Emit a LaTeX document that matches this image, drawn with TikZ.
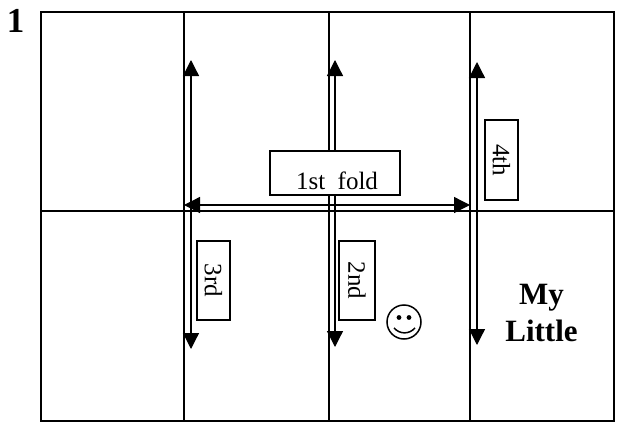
\documentclass[tikz,border=0pt]{standalone}
\usepackage{fontspec}
\setmainfont{Liberation Serif}
\usetikzlibrary{arrows.meta}

\begin{document}
\begin{tikzpicture}[x=1pt, y=-1pt, line width=1.5pt,
    foldarrow/.style={line width=1.3pt, {Triangle[length=16pt,width=16pt]}-{Triangle[length=16pt,width=16pt]}},
    foldbox/.style={draw, fill=white, inner sep=0pt, font=\fontsize{25}{28}\selectfont},
    boldlabel/.style={font=\fontsize{31}{37}\selectfont\bfseries, align=center}]
    \useasboundingbox (0,0) rectangle (619,423);
    % the sheet and its creases
    \node[draw, minimum width=573pt, minimum height=409pt, inner sep=0pt] (sheet) at (327.5,216.5) {};
    \coordinate (left) at (41,211);
    \coordinate (right) at (sheet.east |- left);
    \draw (left) -- (right);
    \foreach \name/\x in {a/184,b/329,c/470} {
        \coordinate (\name top) at (\x,12);
        \coordinate (\name bot) at (\x,421);
        \draw (\name top) -- (\name bot);
    }
    % fold arrows
    \coordinate (third top) at (191,60);
    \coordinate (third bot) at (191,349);
    \coordinate (second top) at (335,60);
    \coordinate (second bot) at (335,347);
    \coordinate (fourth top) at (477,62);
    \coordinate (fourth bot) at (477,345);
    \coordinate (first l) at (184,205);
    \coordinate (first r) at (470,205);
    \draw[foldarrow] (third top) -- (third bot);
    \draw[foldarrow] (second top) -- (second bot);
    \draw[foldarrow] (fourth top) -- (fourth bot);
    \draw[foldarrow] (first l) -- (first r);
    % labels
    \node[foldbox, minimum width=130pt, minimum height=44pt, text height=32pt, text depth=0pt] (first) at (335,173) {\hspace*{4pt}1st\ \ fold};
    \node[foldbox, rotate=-90, minimum width=79pt, minimum height=33pt] (third) at (213.5,280.5) {3rd};
    \node[foldbox, rotate=-90, minimum width=79pt, minimum height=36pt] (second) at (357,280.5) {2nd};
    \node[foldbox, rotate=-90, minimum width=80pt, minimum height=33pt] (fourth) at (501.5,160) {4th};
    \node[boldlabel] (mylittle) at (541.5,313) {My\\Little};
    \node[boldlabel, anchor=base, font=\fontsize{35}{37}\selectfont\bfseries] (num) at (15.5,32) {1};
    % smiley
    \node[draw, circle, minimum size=34pt, inner sep=0pt] (face) at (404,322) {};
    \fill (399,317.5) circle (2.4pt) (409,317.5) circle (2.4pt);
    \draw (394,328) .. controls (400,334.5) and (409,334.5) .. (415,328);
\end{tikzpicture}
\end{document}
